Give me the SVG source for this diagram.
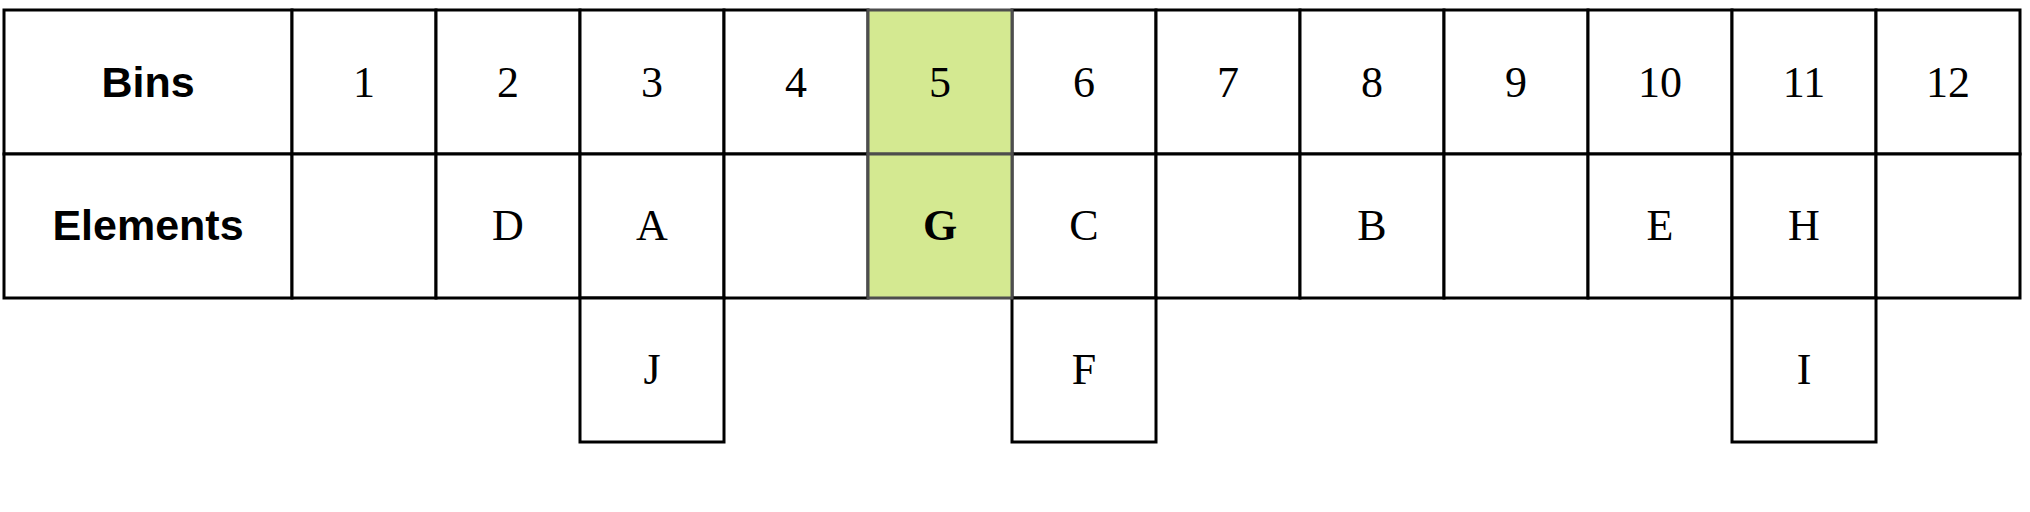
<svg xmlns="http://www.w3.org/2000/svg" width="2030" height="512" viewBox="0 0 2030 512">
<style>
.c{fill:#ffffff;stroke:#000000;stroke-width:3}
.g{fill:#d4e991;stroke:#4d4d4d;stroke-width:3}
.h{font-family:"Liberation Sans",Arial,sans-serif;font-weight:bold;font-size:43px;text-anchor:middle;fill:#000}
.t{font-family:"Liberation Serif","Times New Roman",serif;font-size:44px;text-anchor:middle;fill:#000}
.b{font-weight:bold}
</style>
<rect width="2030" height="512" fill="#ffffff"/>
<g id="hdr-bins"><rect class="c" x="4" y="10" width="288" height="144"/><text class="h" x="148" y="97">Bins</text></g>
<g id="hdr-elements"><rect class="c" x="4" y="154" width="288" height="144"/><text class="h" x="148" y="240">Elements</text></g>
<g id="bin1"><rect class="c" x="292" y="10" width="144" height="144"/><text class="t" x="364" y="97">1</text></g>
<g id="bin2"><rect class="c" x="436" y="10" width="144" height="144"/><text class="t" x="508" y="97">2</text></g>
<g id="bin3"><rect class="c" x="580" y="10" width="144" height="144"/><text class="t" x="652" y="97">3</text></g>
<g id="bin4"><rect class="c" x="724" y="10" width="144" height="144"/><text class="t" x="796" y="97">4</text></g>
<g id="bin6"><rect class="c" x="1012" y="10" width="144" height="144"/><text class="t" x="1084" y="97">6</text></g>
<g id="bin7"><rect class="c" x="1156" y="10" width="144" height="144"/><text class="t" x="1228" y="97">7</text></g>
<g id="bin8"><rect class="c" x="1300" y="10" width="144" height="144"/><text class="t" x="1372" y="97">8</text></g>
<g id="bin9"><rect class="c" x="1444" y="10" width="144" height="144"/><text class="t" x="1516" y="97">9</text></g>
<g id="bin10"><rect class="c" x="1588" y="10" width="144" height="144"/><text class="t" x="1660" y="97">10</text></g>
<g id="bin11"><rect class="c" x="1732" y="10" width="144" height="144"/><text class="t" x="1804" y="97">11</text></g>
<g id="bin12"><rect class="c" x="1876" y="10" width="144" height="144"/><text class="t" x="1948" y="97">12</text></g>
<g id="el1"><rect class="c" x="292" y="154" width="144" height="144"/></g>
<g id="el2"><rect class="c" x="436" y="154" width="144" height="144"/><text class="t" x="508" y="240">D</text></g>
<g id="el3"><rect class="c" x="580" y="154" width="144" height="144"/><text class="t" x="652" y="240">A</text></g>
<g id="el4"><rect class="c" x="724" y="154" width="144" height="144"/></g>
<g id="el6"><rect class="c" x="1012" y="154" width="144" height="144"/><text class="t" x="1084" y="240">C</text></g>
<g id="el7"><rect class="c" x="1156" y="154" width="144" height="144"/></g>
<g id="el8"><rect class="c" x="1300" y="154" width="144" height="144"/><text class="t" x="1372" y="240">B</text></g>
<g id="el9"><rect class="c" x="1444" y="154" width="144" height="144"/></g>
<g id="el10"><rect class="c" x="1588" y="154" width="144" height="144"/><text class="t" x="1660" y="240">E</text></g>
<g id="el11"><rect class="c" x="1732" y="154" width="144" height="144"/><text class="t" x="1804" y="240">H</text></g>
<g id="el12"><rect class="c" x="1876" y="154" width="144" height="144"/></g>
<g id="el3b"><rect class="c" x="580" y="298" width="144" height="144"/><text class="t" x="652" y="384">J</text></g>
<g id="el6b"><rect class="c" x="1012" y="298" width="144" height="144"/><text class="t" x="1084" y="384">F</text></g>
<g id="el11b"><rect class="c" x="1732" y="298" width="144" height="144"/><text class="t" x="1804" y="384">I</text></g>
<g id="bin5"><rect class="g" x="868" y="10" width="144" height="144"/><text class="t" x="940" y="97">5</text></g>
<g id="el5"><rect class="g" x="868" y="154" width="144" height="144"/><text class="t b" x="940" y="240">G</text></g>
<g id="connectors"></g>
</svg>
